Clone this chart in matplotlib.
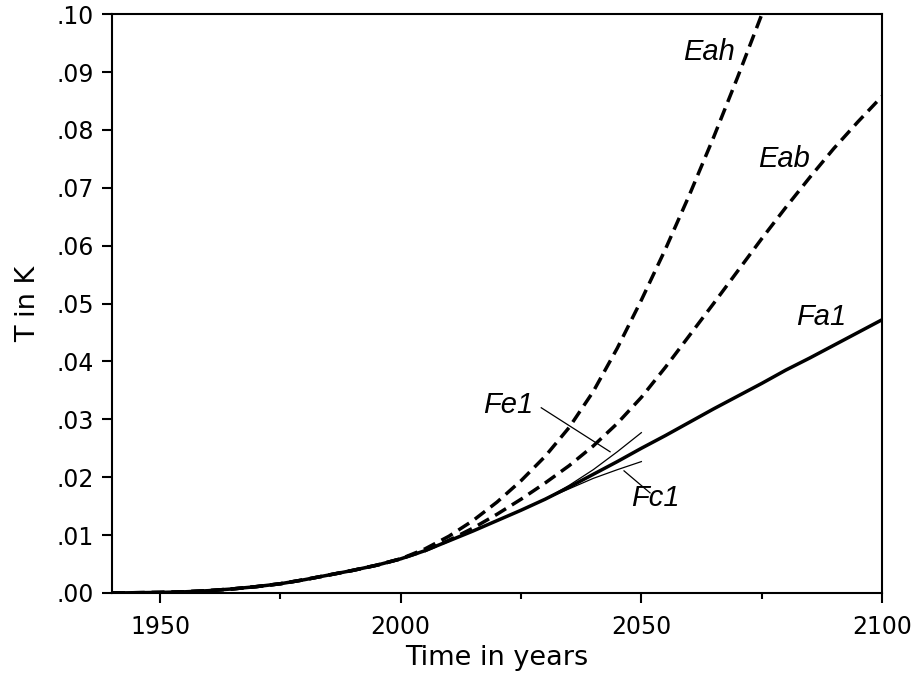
import matplotlib
matplotlib.use('Agg')
import matplotlib.pyplot as plt

# common early part, all runs agree up to ~2000
years_early = [1940, 1945, 1950, 1955, 1960, 1965, 1970, 1975, 1980, 1985, 1990, 1995]
t_early = [0.0, 0.00005, 0.0001, 0.0002, 0.0004, 0.0007, 0.0011, 0.0016, 0.0023, 0.0031, 0.0039, 0.0048]

years_late = list(range(2000, 2105, 5))
fa1_late = [0.0059, 0.0073, 0.0090, 0.0107, 0.0125, 0.0143, 0.0162, 0.0183, 0.0205, 0.0227, 0.0250,
            0.0272, 0.0295, 0.0318, 0.0340, 0.0362, 0.0385, 0.0406, 0.0428, 0.0450, 0.0472]
eab_late = [0.0059, 0.0073, 0.0091, 0.0112, 0.0136, 0.0162, 0.0190, 0.0220, 0.0254, 0.0293, 0.0338,
            0.0390, 0.0445, 0.0500, 0.0556, 0.0612, 0.0666, 0.0718, 0.0768, 0.0814, 0.0858]
years_eah = list(range(2000, 2085, 5))
eah_late = [0.0059, 0.0076, 0.0098, 0.0125, 0.0157, 0.0194, 0.0236, 0.0286, 0.0348, 0.0423, 0.0506,
            0.0594, 0.0688, 0.0787, 0.0891, 0.0999, 0.1111]

years_short = [2030, 2035, 2040, 2045, 2050]
fe1 = [0.0162, 0.0186, 0.0213, 0.0244, 0.0277]
fc1 = [0.0162, 0.0180, 0.0198, 0.0213, 0.0227]

plt.rcParams['font.family'] = 'DejaVu Sans'
fig = plt.figure(figsize=(9.13, 6.75), dpi=100)
ax = fig.add_axes([0.1227, 0.1215, 0.8433, 0.8575])

lw = 2.5
ax.plot(years_early + years_late, t_early + fa1_late, color='black', lw=lw, solid_capstyle='butt')
ax.plot(years_early + years_late, t_early + eab_late, color='black', lw=lw, dashes=(3.7, 2.0))
ax.plot(years_early + years_eah, t_early + eah_late, color='black', lw=lw, dashes=(3.7, 2.0))
ax.plot(years_short, fe1, color='black', lw=0.9)
ax.plot(years_short, fc1, color='black', lw=0.9)

# leader lines for the short runs
ax.plot([2029.2, 2043.5], [0.0320, 0.0244], color='black', lw=0.9)
ax.plot([2046.4, 2051.8], [0.0211, 0.0173], color='black', lw=0.9)

lab = dict(family='Liberation Sans', style='italic', fontsize=21, ha='center', va='center')
ax.text(2064.1, 0.0934, 'Eah', **lab)
ax.text(2079.6, 0.0749, 'Eab', **lab)
ax.text(2087.3, 0.0476, 'Fa1', **lab)
ax.text(2022.4, 0.0324, 'Fe1', **lab)
ax.text(2052.9, 0.0164, 'Fc1', **lab)

ax.set_xlim(1940, 2100)
ax.set_ylim(0, 0.10)
ax.set_xticks([1950, 2000, 2050, 2100])
ax.set_xticks([1975, 2025, 2075], minor=True)
yt = [i / 100 for i in range(11)]
ax.set_yticks(yt)
ax.set_yticklabels(['.%02d' % round(v * 100) for v in yt])

ax.tick_params(axis='both', which='major', direction='out', length=7, width=1.5,
               labelsize=17, pad=6)
ax.tick_params(axis='x', which='major', pad=9)
ax.tick_params(axis='x', which='minor', direction='out', length=4, width=1.5)
for s in ax.spines.values():
    s.set_linewidth(1.5)

ax.set_xlabel('Time in years', fontsize=19.5, labelpad=4)
ax.set_ylabel('T in K', fontsize=19.5, labelpad=11)

fig.savefig('out.png', dpi=100)
